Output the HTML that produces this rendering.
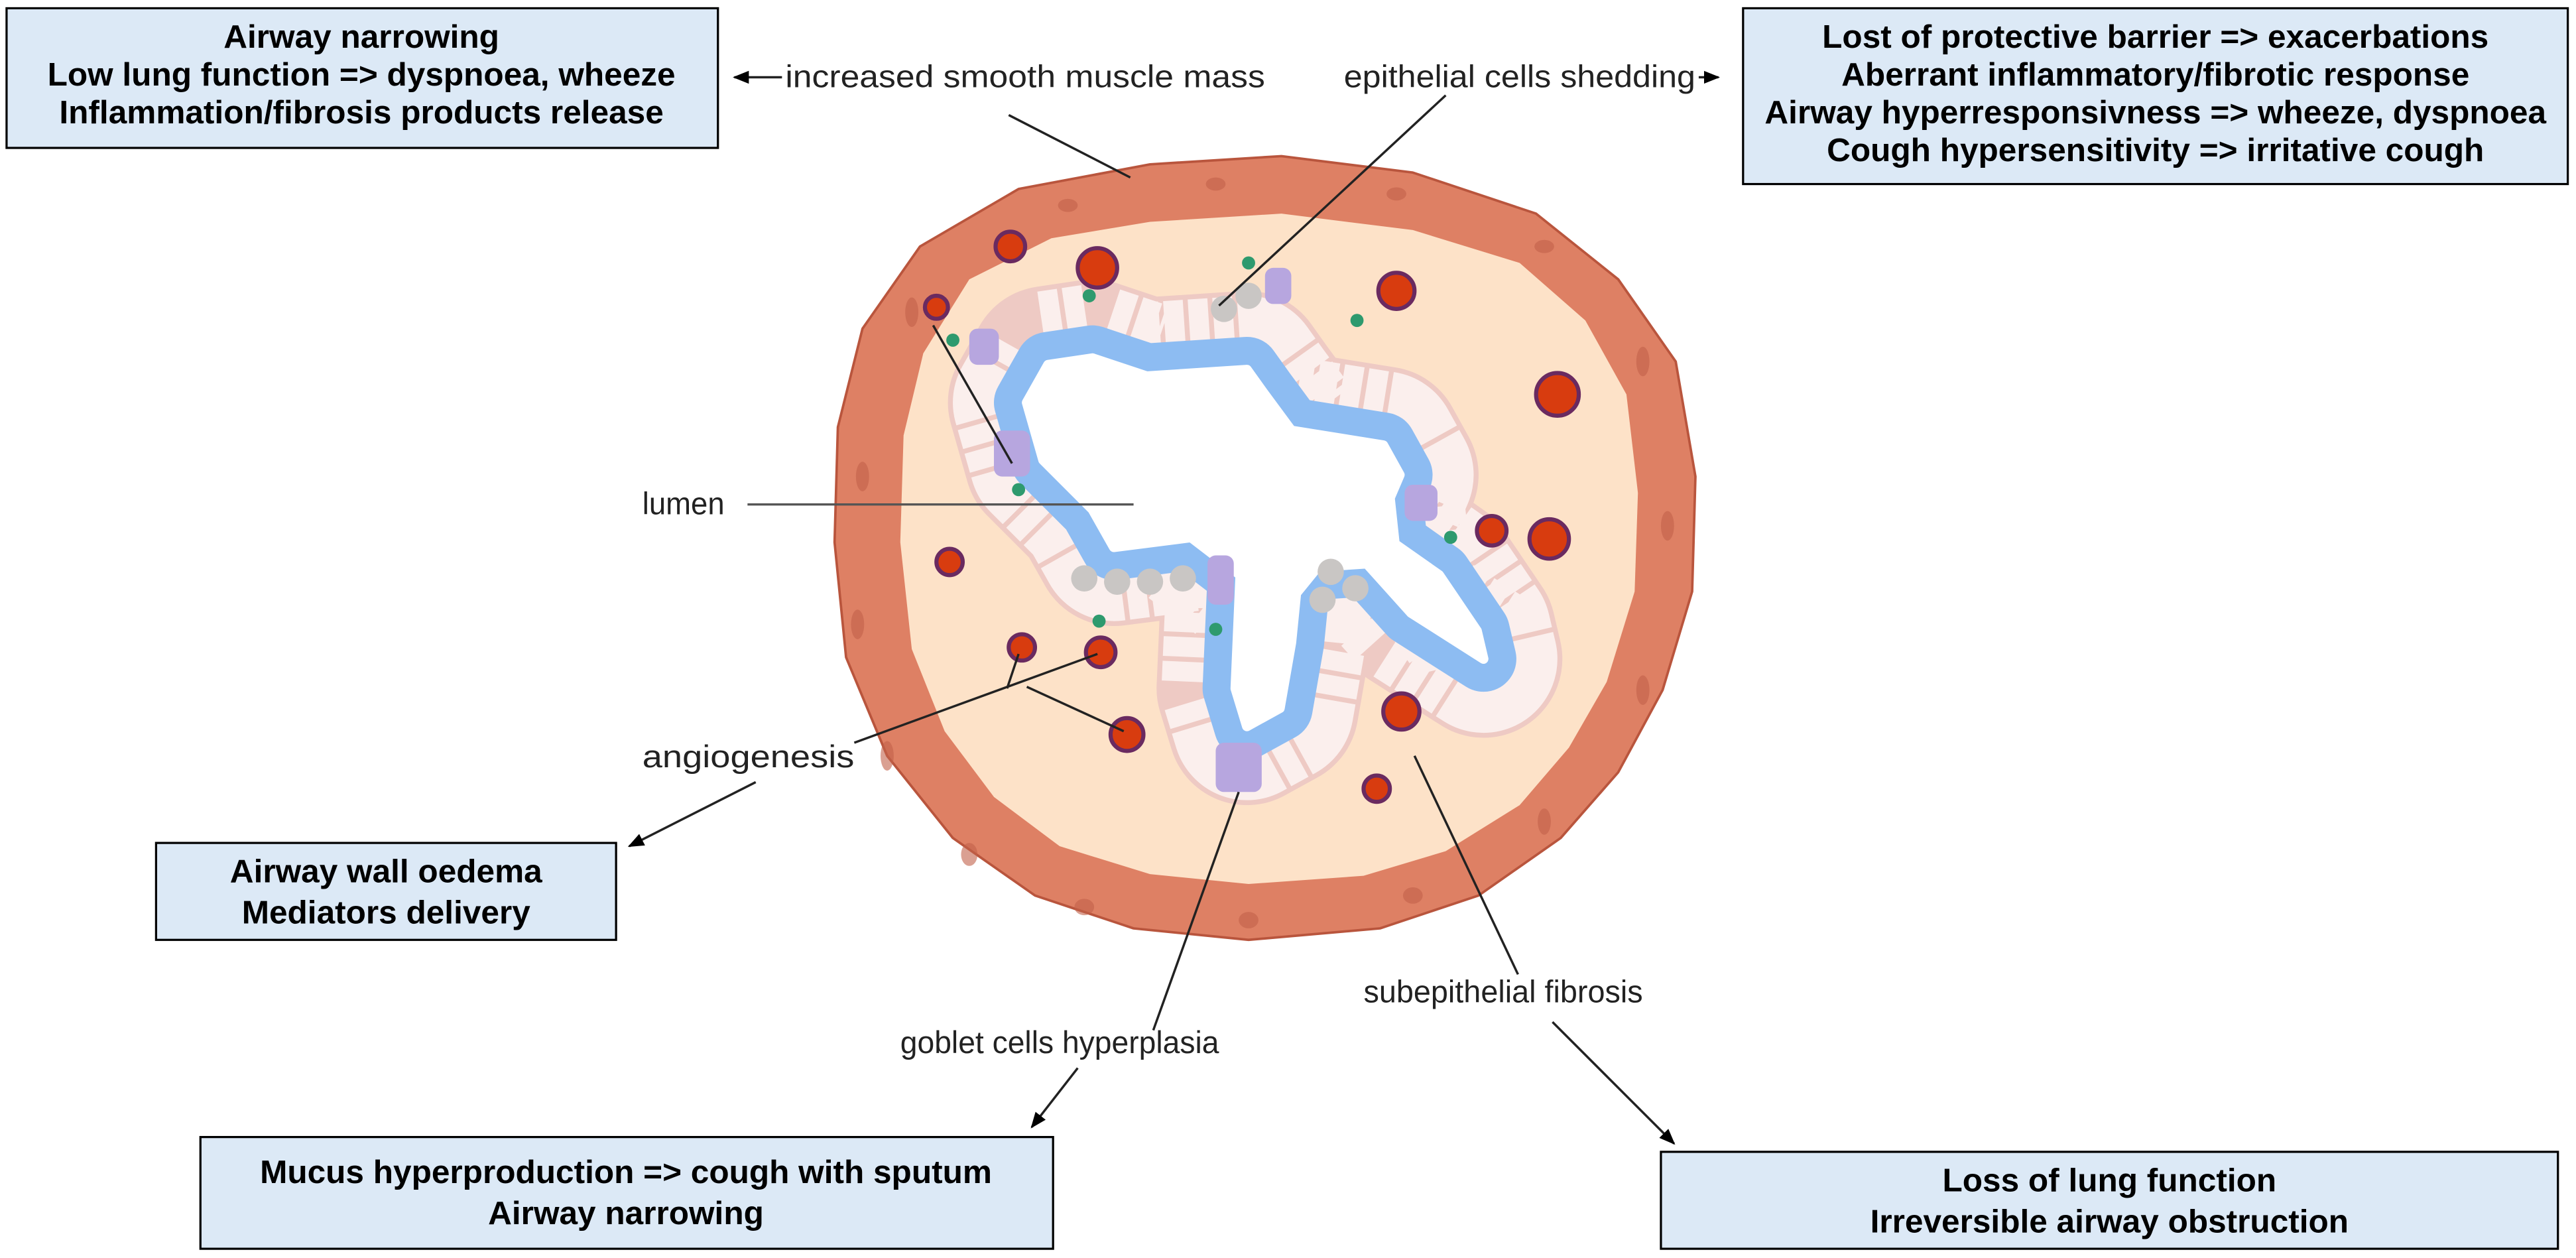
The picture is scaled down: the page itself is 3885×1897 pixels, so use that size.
<!DOCTYPE html>
<html><head><meta charset="utf-8"><style>
html,body{margin:0;padding:0;background:#fff;}
svg{display:block;}
.b{font-family:"Liberation Sans",sans-serif;font-weight:bold;font-size:20px;fill:#000;text-anchor:middle;}
.r{font-family:"Liberation Sans",sans-serif;font-size:19px;fill:#222;}
</style></head><body>
<svg width="3885" height="1897" viewBox="0 0 1568 765.6" xmlns="http://www.w3.org/2000/svg">
<defs>
<marker id="ah" viewBox="0 0 10 10" refX="9" refY="5" markerWidth="7" markerHeight="7" orient="auto-start-reverse"><path d="M0,1 L10,5 L0,9 z" fill="#000"/></marker>
</defs>
<g stroke="#000" stroke-width="1.3" fill="#dce9f6">
<rect x="4" y="5" width="433" height="85"/>
<rect x="1061" y="5" width="502" height="107"/>
<rect x="95" y="513" width="280" height="59"/>
<rect x="122" y="692" width="519" height="68"/>
<rect x="1011" y="701" width="546" height="59"/>
</g>
<text class="b" x="220" y="29">Airway narrowing</text>
<text class="b" x="220" y="52">Low lung function =&gt; dyspnoea, wheeze</text>
<text class="b" x="220" y="75">Inflammation/fibrosis  products release</text>
<text class="b" x="1312" y="29">Lost of protective barrier =&gt; exacerbations</text>
<text class="b" x="1312" y="52">Aberrant inflammatory/fibrotic  response</text>
<text class="b" x="1312" y="75">Airway hyperresponsivness =&gt; wheeze, dyspnoea</text>
<text class="b" x="1312" y="98">Cough hypersensitivity =&gt; irritative cough</text>
<text class="b" x="235" y="537">Airway wall oedema</text>
<text class="b" x="235" y="562">Mediators delivery</text>
<text class="b" x="381" y="720">Mucus hyperproduction =&gt; cough with sputum</text>
<text class="b" x="381" y="745">Airway narrowing</text>
<text class="b" x="1284" y="725">Loss of lung function</text>
<text class="b" x="1284" y="750">Irreversible airway obstruction</text>

<!-- airway -->
<path d="M700,100 L780,95 L860,105 L935,130 L985,170 L1020,220 L1032,290 L1030,360 L1012,420 L985,470 L950,510 L900,545 L840,565 L760,572 L690,565 L630,545 L580,510 L540,460 L515,400 L508,330 L510,260 L525,200 L560,150 L620,115 Z" fill="#de8064" stroke="#b9553d" stroke-width="1.5" stroke-linejoin="round"/>
<path d="M700,135 L780,130 L860,140 L925,160 L965,195 L990,240 L997,300 L995,360 L978,415 L955,455 L925,490 L880,518 L830,533 L760,538 L700,532 L645,515 L605,485 L575,445 L555,395 L548,330 L550,265 L562,215 L590,170 L640,145 Z" fill="#fde2c8" stroke-linejoin="round"/>
<g fill="#c2604a" opacity="0.6">
<ellipse cx="525" cy="290" rx="4" ry="9"/><ellipse cx="522" cy="380" rx="4" ry="9"/><ellipse cx="540" cy="460" rx="4" ry="9"/><ellipse cx="590" cy="520" rx="5" ry="7"/><ellipse cx="660" cy="552" rx="6" ry="5"/><ellipse cx="760" cy="560" rx="6" ry="5"/><ellipse cx="860" cy="545" rx="6" ry="5"/><ellipse cx="940" cy="500" rx="4" ry="8"/><ellipse cx="1000" cy="420" rx="4" ry="9"/><ellipse cx="1015" cy="320" rx="4" ry="9"/><ellipse cx="1000" cy="220" rx="4" ry="9"/><ellipse cx="940" cy="150" rx="6" ry="4"/><ellipse cx="850" cy="118" rx="6" ry="4"/><ellipse cx="740" cy="112" rx="6" ry="4"/><ellipse cx="650" cy="125" rx="6" ry="4"/><ellipse cx="555" cy="190" rx="4" ry="9"/>
</g>
<g stroke-linejoin="round">
<path d="M638,222 L665,218 L698,229 L759,225 L769,239 L786,262 L842,271 L852,289 L846,303 L849,331 L876,350 L899,384 L903,401 L859,373 L832,343 L802,345 L789,361 L786,391 L779,431 L759,442 L752,419 L755,350 L725,327 L678,333 L665,310 L635,280 L625,245 Z" fill="none" stroke="#eecac4" stroke-width="96"/>
<path d="M638,222 L665,218 L698,229 L759,225 L769,239 L786,262 L842,271 L852,289 L846,303 L849,331 L876,350 L899,384 L903,401 L859,373 L832,343 L802,345 L789,361 L786,391 L779,431 L759,442 L752,419 L755,350 L725,327 L678,333 L665,310 L635,280 L625,245 Z" fill="none" stroke="#fbefed" stroke-width="90" stroke-dasharray="12 3"/>
<path d="M638,222 L665,218 L698,229 L759,225 L769,239 L786,262 L842,271 L852,289 L846,303 L849,331 L876,350 L899,384 L903,401 L859,373 L832,343 L802,345 L789,361 L786,391 L779,431 L759,442 L752,419 L755,350 L725,327 L678,333 L665,310 L635,280 L625,245 Z" fill="#fff" stroke="#8dbcf2" stroke-width="40"/>
<path d="M638,222 L665,218 L698,229 L759,225 L769,239 L786,262 L842,271 L852,289 L846,303 L849,331 L876,350 L899,384 L903,401 L859,373 L832,343 L802,345 L789,361 L786,391 L779,431 L759,442 L752,419 L755,350 L725,327 L678,333 L665,310 L635,280 L625,245 Z" fill="#fff" stroke="#fff" stroke-width="6"/>
</g>
<g fill="#c9c6c4"><circle cx="745" cy="188" r="8"/><circle cx="760" cy="180" r="8"/><circle cx="660" cy="352" r="8"/><circle cx="680" cy="354" r="8"/><circle cx="700" cy="354" r="8"/><circle cx="720" cy="352" r="8"/><circle cx="810" cy="348" r="8"/><circle cx="825" cy="358" r="8"/><circle cx="805" cy="365" r="8"/></g>
<g fill="#b7a6df"><rect x="605" y="262" width="22" height="28" rx="5"/><rect x="590" y="200" width="18" height="22" rx="5"/><rect x="735" y="338" width="16" height="30" rx="5"/><rect x="740" y="452" width="28" height="30" rx="5"/><rect x="855" y="295" width="20" height="22" rx="5"/><rect x="770" y="163" width="16" height="22" rx="5"/></g>
<g fill="#2e9a6e"><circle cx="620" cy="298" r="4"/><circle cx="663" cy="180" r="4"/><circle cx="760" cy="160" r="4"/><circle cx="826" cy="195" r="4"/><circle cx="883" cy="327" r="4"/><circle cx="669" cy="378" r="4"/><circle cx="740" cy="383" r="4"/><circle cx="580" cy="207" r="4"/></g>
<g fill="#d83c0f" stroke="#6a2a60" stroke-width="2.5">
<circle cx="615" cy="150" r="9"/><circle cx="668" cy="163" r="12"/><circle cx="570" cy="187" r="7"/><circle cx="850" cy="177" r="11"/><circle cx="948" cy="240" r="13"/><circle cx="908" cy="323" r="9"/><circle cx="943" cy="328" r="12"/><circle cx="578" cy="342" r="8"/><circle cx="622" cy="394" r="8"/><circle cx="670" cy="397" r="9"/><circle cx="686" cy="447" r="10"/><circle cx="853" cy="433" r="11"/><circle cx="838" cy="480" r="8"/>
</g>

<text class="r" x="478" y="53" textLength="292" lengthAdjust="spacingAndGlyphs">increased smooth muscle mass</text>
<text class="r" x="818" y="53" textLength="214" lengthAdjust="spacingAndGlyphs">epithelial cells shedding</text>
<text class="r" x="391" y="313" textLength="50" lengthAdjust="spacingAndGlyphs">lumen</text>
<text class="r" x="391" y="467" textLength="129" lengthAdjust="spacingAndGlyphs">angiogenesis</text>
<text class="r" x="548" y="641" textLength="194" lengthAdjust="spacingAndGlyphs">goblet cells hyperplasia</text>
<text class="r" x="830" y="610" textLength="170" lengthAdjust="spacingAndGlyphs">subepithelial fibrosis</text>

<g stroke="#222" stroke-width="1.4" fill="none">
<line x1="476" y1="47" x2="447" y2="47" marker-end="url(#ah)"/>
<line x1="1034" y1="47" x2="1046" y2="47" marker-end="url(#ah)"/>
<line x1="614" y1="70" x2="688" y2="108"/>
<line x1="880" y1="58" x2="742" y2="186"/>
<line x1="455" y1="307" x2="690" y2="307" stroke="#555"/>
<line x1="568" y1="198" x2="616" y2="282"/>
<line x1="520" y1="452" x2="668" y2="398"/>
<line x1="620" y1="398" x2="613" y2="419"/>
<line x1="625" y1="418" x2="684" y2="445"/>
<line x1="460" y1="476" x2="383" y2="515" marker-end="url(#ah)"/>
<line x1="754" y1="482" x2="702" y2="627"/>
<line x1="656" y1="650" x2="628" y2="686" marker-end="url(#ah)"/>
<line x1="861" y1="460" x2="924" y2="593"/>
<line x1="945" y1="622" x2="1019" y2="696" marker-end="url(#ah)"/>
</g>
</svg>
</body></html>
